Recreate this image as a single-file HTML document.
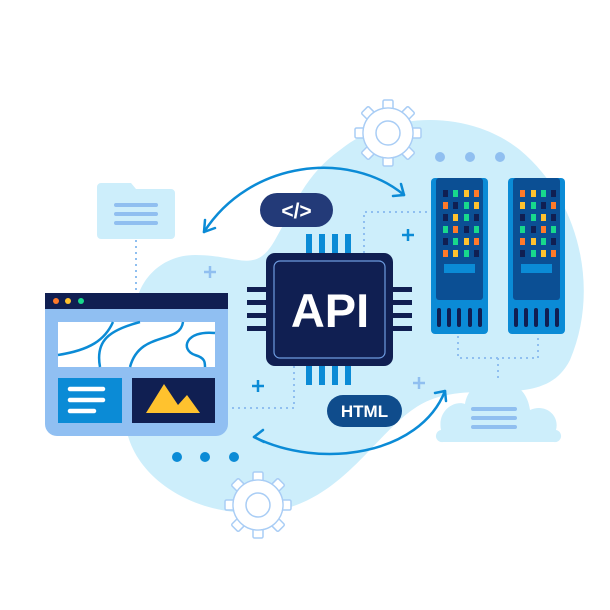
<!DOCTYPE html>
<html><head><style>html,body{margin:0;padding:0;background:#fff}svg{display:block}</style></head>
<body>
<svg width="610" height="610" viewBox="0 0 610 610" xmlns="http://www.w3.org/2000/svg">
<defs>
<g id="gear">
<g fill="#fff" stroke="#a9cdf5" stroke-width="1.5">
<rect x="-5" y="-33" width="10" height="12" rx="1.5"/>
<rect x="-5" y="-33" width="10" height="12" rx="1.5" transform="rotate(45)"/>
<rect x="-5" y="-33" width="10" height="12" rx="1.5" transform="rotate(90)"/>
<rect x="-5" y="-33" width="10" height="12" rx="1.5" transform="rotate(135)"/>
<rect x="-5" y="-33" width="10" height="12" rx="1.5" transform="rotate(180)"/>
<rect x="-5" y="-33" width="10" height="12" rx="1.5" transform="rotate(225)"/>
<rect x="-5" y="-33" width="10" height="12" rx="1.5" transform="rotate(270)"/>
<rect x="-5" y="-33" width="10" height="12" rx="1.5" transform="rotate(315)"/>
<circle r="25"/>
</g>
<circle r="24.2" fill="#fff"/>
<circle r="12" fill="none" stroke="#a9cdf5" stroke-width="1.5"/>
</g>
</defs>
<!-- blob -->
<path fill="#cdeefb" d="M340,150 C390,110 470,110 520,150 C580,200 600,290 570,360 C545,410 480,380 430,400 C380,420 350,500 270,512 C200,520 130,480 125,420 C120,380 150,360 140,330 C125,300 150,255 195,255 C240,255 255,275 275,240 C295,205 305,175 340,150 Z"/>
<use href="#gear" x="388" y="133"/>
<use href="#gear" x="258" y="505"/>
<!-- dotted lines -->
<g fill="none" stroke="#8fbff0" stroke-width="2" stroke-dasharray="2 4">
<path d="M136,240 V292"/>
<path d="M364,253 V212 H432"/>
<path d="M294,366 V408 H228"/>
<path d="M458,336 V358 H538 V336"/>
<path d="M498,358 V380"/>
</g>
<g fill="#90bff0"><circle cx="440" cy="157" r="5"/><circle cx="470" cy="157" r="5"/><circle cx="500" cy="157" r="5"/></g>
<g fill="#0b8bd6"><circle cx="177" cy="457" r="5"/><circle cx="205" cy="457" r="5"/><circle cx="234" cy="457" r="5"/></g>
<g stroke="#0b8bd6" stroke-width="2.5"><path d="M402,235 h12 M408,229 v12"/><path d="M252,386 h12 M258,380 v12"/></g>
<g stroke="#90bff0" stroke-width="2.5"><path d="M204,272 h12 M210,266 v12"/><path d="M413,383 h12 M419,377 v12"/></g>
<path fill="#cdeefb" d="M101,183 h30 l5,6 h35 a4,4 0 0 1 4,4 v42 a4,4 0 0 1 -4,4 h-70 a4,4 0 0 1 -4,-4 v-48 a4,4 0 0 1 4,-4z"/>
<g stroke="#90bff0" stroke-width="4" stroke-linecap="round"><path d="M116,205h40M116,214h40M116,223h40"/></g>
<g fill="none" stroke="#0b8bd6" stroke-width="2.5" stroke-linecap="round">
<path d="M204,232 C250,160 350,150 404,195"/>
<path d="M204,232 l1,-12 M204,232 l11,-4"/>
<path d="M404,195 l-3,-11 M404,195 l-11,1"/>
<path d="M254,437 C320,470 420,455 445,391"/>
<path d="M254,437 l9,-7 M254,437 l10,5"/>
<path d="M445,391 l-10,2 M445,391 l1,10"/>
</g>
<rect x="260" y="193" width="73" height="34" rx="17" fill="#233a78"/>
<text x="296.5" y="218" text-anchor="middle" font-family="Liberation Sans,sans-serif" font-weight="bold" font-size="21" fill="#fff">&lt;/&gt;</text>
<rect x="327" y="395" width="75" height="32" rx="16" fill="#0f4c8c"/>
<text x="364.5" y="417" text-anchor="middle" font-family="Liberation Sans,sans-serif" font-weight="bold" font-size="17" fill="#fff">HTML</text>
<g fill="#0b8bd6"><rect x="306" y="234" width="6" height="20"/><rect x="319" y="234" width="6" height="20"/><rect x="332" y="234" width="6" height="20"/><rect x="345" y="234" width="6" height="20"/>
<rect x="306" y="365" width="6" height="20"/><rect x="319" y="365" width="6" height="20"/><rect x="332" y="365" width="6" height="20"/><rect x="345" y="365" width="6" height="20"/></g>
<g fill="#101f52"><rect x="247" y="287" width="20" height="5"/><rect x="247" y="300" width="20" height="5"/><rect x="247" y="313" width="20" height="5"/><rect x="247" y="326" width="20" height="5"/>
<rect x="392" y="287" width="20" height="5"/><rect x="392" y="300" width="20" height="5"/><rect x="392" y="313" width="20" height="5"/><rect x="392" y="326" width="20" height="5"/></g>
<rect x="266" y="253" width="127" height="113" rx="9" fill="#101f52"/>
<rect x="274" y="261" width="111" height="97" rx="6" fill="none" stroke="#6d9be0" stroke-width="1.2"/>
<text x="330" y="327" text-anchor="middle" font-family="Liberation Sans,sans-serif" font-weight="bold" font-size="47" fill="#fff">API</text>
<rect x="45" y="293" width="183" height="143" rx="12" fill="#90bff2"/>
<rect x="45" y="293" width="183" height="16" fill="#101f52"/>
<circle cx="56" cy="301" r="3" fill="#ff7a2a"/><circle cx="68" cy="301" r="3" fill="#ffc22e"/><circle cx="81" cy="301" r="3" fill="#18d98c"/>
<rect x="58" y="322" width="157" height="45" fill="#fff"/>
<g fill="none" stroke="#0b8bd6" stroke-width="2.5">
<path d="M58,355 C90,350 105,340 113,322"/>
<path d="M140,322 C110,330 95,340 100,367"/>
<path d="M183,322 C180,345 140,330 130,367"/>
<path d="M215,333 C185,330 180,350 195,355 C205,358 205,362 205,367"/>
</g>
<rect x="58" y="378" width="64" height="45" fill="#0b8bd6"/>
<g stroke="#fff" stroke-width="4.5" stroke-linecap="round"><path d="M70,389h33M70,400h33M70,411h24"/></g>
<rect x="132" y="378" width="83" height="45" fill="#101f52"/>
<path d="M146,413 L164,384 L178,405 L187,395 L200,413 Z" fill="#ffc22e"/>
<path fill="#cdeefb" d="M443,442 a6,6 0 0 1 -2,-12 C437,410 455,400 465,404 C470,370 525,370 530,410 C545,403 560,415 556,430 a6,6 0 0 1 -2,12 Z"/>
<g stroke="#90bff0" stroke-width="4" stroke-linecap="round"><path d="M473,409h42M473,418h42M473,427h42"/></g>
<g id="srv">
<rect x="431" y="178" width="57" height="156" rx="4" fill="#0b8bd6"/>
<rect x="436" y="178" width="47" height="122" rx="3" fill="#0b4f94"/>
<rect x="444" y="264" width="31" height="9" fill="#0b8bd6"/>
<g fill="#101f52"><rect x="437" y="308" width="4" height="19" rx="2"/><rect x="447" y="308" width="4" height="19" rx="2"/><rect x="457" y="308" width="4" height="19" rx="2"/><rect x="468" y="308" width="4" height="19" rx="2"/><rect x="478" y="308" width="4" height="19" rx="2"/></g>
</g>
<use href="#srv" x="77"/>
<g>
<rect x="443" y="190" width="5" height="7" fill="#101f52"/><rect x="453" y="190" width="5" height="7" fill="#18d98c"/><rect x="464" y="190" width="5" height="7" fill="#ffc22e"/><rect x="474" y="190" width="5" height="7" fill="#ff7a2a"/>
<rect x="443" y="202" width="5" height="7" fill="#ff7a2a"/><rect x="453" y="202" width="5" height="7" fill="#101f52"/><rect x="464" y="202" width="5" height="7" fill="#18d98c"/><rect x="474" y="202" width="5" height="7" fill="#ffc22e"/>
<rect x="443" y="214" width="5" height="7" fill="#101f52"/><rect x="453" y="214" width="5" height="7" fill="#ffc22e"/><rect x="464" y="214" width="5" height="7" fill="#18d98c"/><rect x="474" y="214" width="5" height="7" fill="#101f52"/>
<rect x="443" y="226" width="5" height="7" fill="#18d98c"/><rect x="453" y="226" width="5" height="7" fill="#ff7a2a"/><rect x="464" y="226" width="5" height="7" fill="#101f52"/><rect x="474" y="226" width="5" height="7" fill="#18d98c"/>
<rect x="443" y="238" width="5" height="7" fill="#101f52"/><rect x="453" y="238" width="5" height="7" fill="#18d98c"/><rect x="464" y="238" width="5" height="7" fill="#ffc22e"/><rect x="474" y="238" width="5" height="7" fill="#ff7a2a"/>
<rect x="443" y="250" width="5" height="7" fill="#ff7a2a"/><rect x="453" y="250" width="5" height="7" fill="#ffc22e"/><rect x="464" y="250" width="5" height="7" fill="#18d98c"/><rect x="474" y="250" width="5" height="7" fill="#101f52"/>
<rect x="520" y="190" width="5" height="7" fill="#ff7a2a"/><rect x="531" y="190" width="5" height="7" fill="#ffc22e"/><rect x="541" y="190" width="5" height="7" fill="#18d98c"/><rect x="551" y="190" width="5" height="7" fill="#101f52"/>
<rect x="520" y="202" width="5" height="7" fill="#ffc22e"/><rect x="531" y="202" width="5" height="7" fill="#18d98c"/><rect x="541" y="202" width="5" height="7" fill="#101f52"/><rect x="551" y="202" width="5" height="7" fill="#ff7a2a"/>
<rect x="520" y="214" width="5" height="7" fill="#101f52"/><rect x="531" y="214" width="5" height="7" fill="#18d98c"/><rect x="541" y="214" width="5" height="7" fill="#ffc22e"/><rect x="551" y="214" width="5" height="7" fill="#101f52"/>
<rect x="520" y="226" width="5" height="7" fill="#18d98c"/><rect x="531" y="226" width="5" height="7" fill="#101f52"/><rect x="541" y="226" width="5" height="7" fill="#ff7a2a"/><rect x="551" y="226" width="5" height="7" fill="#18d98c"/>
<rect x="520" y="238" width="5" height="7" fill="#ff7a2a"/><rect x="531" y="238" width="5" height="7" fill="#ffc22e"/><rect x="541" y="238" width="5" height="7" fill="#18d98c"/><rect x="551" y="238" width="5" height="7" fill="#101f52"/>
<rect x="520" y="250" width="5" height="7" fill="#101f52"/><rect x="531" y="250" width="5" height="7" fill="#18d98c"/><rect x="541" y="250" width="5" height="7" fill="#ffc22e"/><rect x="551" y="250" width="5" height="7" fill="#ff7a2a"/>
</g>
</svg>
</body></html>
